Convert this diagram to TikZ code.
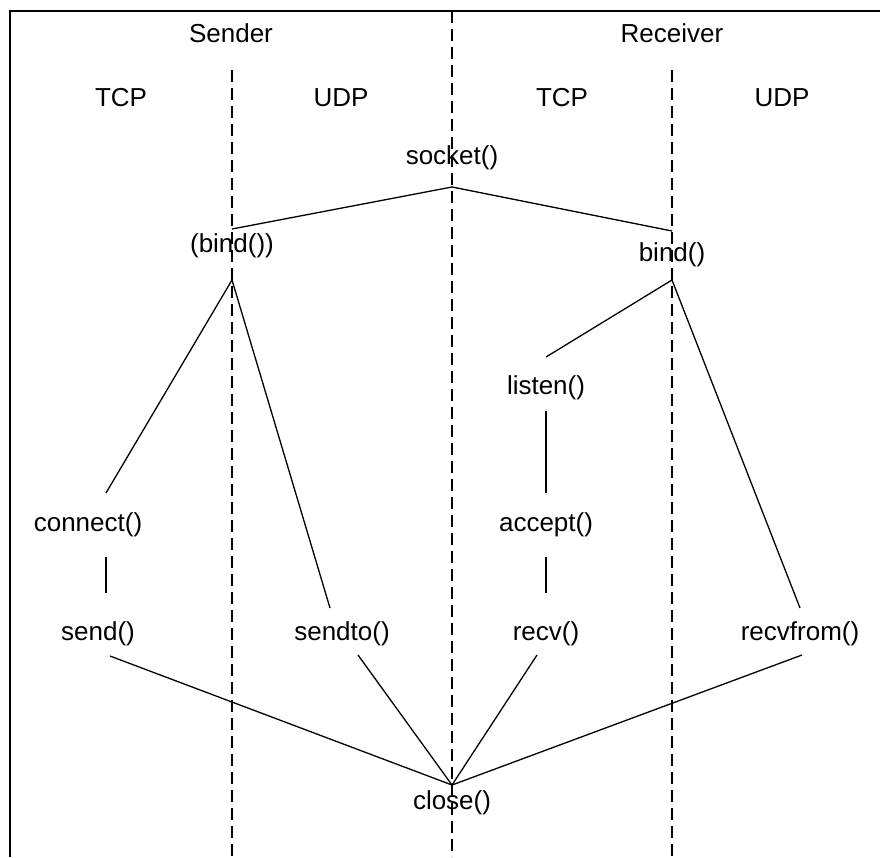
\documentclass[tikz,border=0pt]{standalone}
\usepackage{fontspec}
\setmainfont{Liberation Sans}
\begin{document}
\begin{tikzpicture}[x=1pt,y=-1pt,
  lbl/.style={font=\fontsize{26}{30}\selectfont, inner sep=0pt},
  conn/.style={line width=1.3pt},
  lane/.style={line width=1.3pt, dash pattern=on 12pt off 6pt},
  frame/.style={line width=1.6pt}]
\useasboundingbox (0,0) rectangle (880,857);
% frame
\coordinate (fTR) at (880,11);
\coordinate (fTL) at (10,11);
\coordinate (fBL) at (10,857);
\draw[frame] (fTR) -- (fTL) -- (fBL);
% lanes
\coordinate (cTop) at (452,11);   \coordinate (cBot) at (452,857);
\coordinate (lTop) at (232,70);   \coordinate (lBot) at (232,857);
\coordinate (rTop) at (672,70);   \coordinate (rBot) at (672,857);
\draw[lane] (cTop) -- (cBot);
\draw[lane] (lTop) -- (lBot);
\draw[lane] (rTop) -- (rBot);
% headers
\node[lbl] (sender) at (231,33) {Sender};
\node[lbl] (receiver) at (672,33) {Receiver};
\node[lbl] (tcp1) at (121,98) {TCP};
\node[lbl] (udp1) at (341,98) {UDP};
\node[lbl] (tcp2) at (562,98) {TCP};
\node[lbl] (udp2) at (782,98) {UDP};
% calls
\node[lbl] (socket) at (452,158) {socket()};
\node[lbl] (bindL) at (232,246) {(bind())};
\node[lbl] (bindR) at (672,255) {bind()};
\node[lbl] (listen) at (546,388) {listen()};
\node[lbl] (connect) at (88,525) {connect()};
\node[lbl] (accept) at (546,525) {accept()};
\node[lbl] (send) at (98,634) {send()};
\node[lbl] (sendto) at (342,634) {sendto()};
\node[lbl] (recv) at (546,634) {recv()};
\node[lbl] (recvfrom) at (800,634) {recvfrom()};
\node[lbl] (close) at (452,803) {close()};
% joints
\coordinate (sock) at (452,187);
\coordinate (bL) at (232,229);  \coordinate (bLs) at (232,280);
\coordinate (bR) at (672,231);  \coordinate (bRs) at (672,280);
\coordinate (conT) at (106,493); \coordinate (conB) at (106,557);
\coordinate (sendT) at (106,593); \coordinate (sendB) at (110,656);
\coordinate (sendtoT) at (330,608); \coordinate (sendtoB) at (358,655);
\coordinate (listenT) at (546,357); \coordinate (listenB) at (546,411);
\coordinate (acceptT) at (546,493); \coordinate (acceptB) at (546,557);
\coordinate (recvT) at (546,593); \coordinate (recvB) at (537,655);
\coordinate (recvfromT) at (800,608); \coordinate (recvfromB) at (802,655);
\coordinate (cl) at (452,785);
% connectors
\draw[conn] (bL) -- (sock) -- (bR);
\draw[conn] (bLs) -- (conT);
\draw[conn] (bLs) -- (sendtoT);
\draw[conn] (conB) -- (sendT);
\draw[conn] (bRs) -- (listenT);
\draw[conn] (bRs) -- (recvfromT);
\draw[conn] (listenB) -- (acceptT);
\draw[conn] (acceptB) -- (recvT);
\draw[conn] (sendB) -- (cl);
\draw[conn] (sendtoB) -- (cl);
\draw[conn] (recvB) -- (cl);
\draw[conn] (recvfromB) -- (cl);
\end{tikzpicture}
\end{document}
